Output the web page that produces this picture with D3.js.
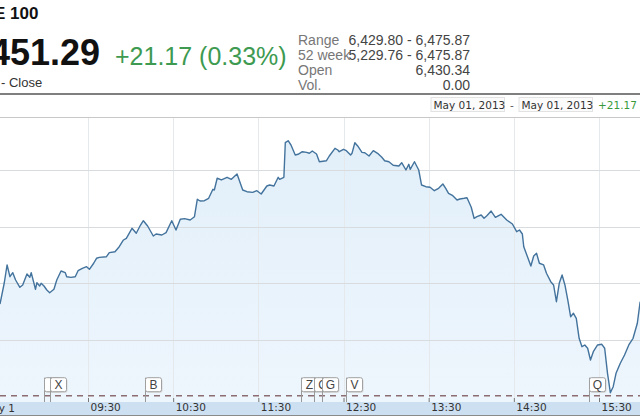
<!DOCTYPE html>
<html><head><meta charset="utf-8">
<script src="https://cdn.jsdelivr.net/npm/d3@7"></script>
<style>html,body{margin:0;padding:0;background:#fff;overflow:hidden}svg{display:block}</style>
</head><body><svg id="c" width="640" height="420"></svg>
<script>
const times = ["08:28","08:31","08:33","08:35","08:37","08:39","08:42","08:44","08:47","08:49","08:50","08:53","08:54","08:56","08:57","08:59",
"09:01","09:03","09:06","09:08","09:11","09:14","09:15","09:18","09:21","09:23","09:26","09:29","09:31","09:34","09:36","09:38","09:43","09:45","09:49","09:52","09:55","09:57",
"10:01","10:04","10:07","10:09","10:12","10:16","10:18","10:22","10:25","10:29","10:32","10:35","10:38","10:42","10:45","10:47","10:49","10:52","10:55","10:58","10:59",
"11:01","11:04","11:08","11:11","11:15","11:19","11:22","11:26","11:29","11:32","11:36","11:38","11:41","11:44","11:45","11:48","11:49","11:51","11:53","11:56","11:58",
"12:01","12:04","12:06","12:08","12:11","12:13","12:18","12:20","12:24","12:26","12:27","12:30","12:32","12:35","12:36","12:38","12:40","12:43","12:45","12:48","12:51","12:54","12:57","12:59",
"13:02","13:05","13:09","13:11","13:14","13:16","13:17","13:20","13:23","13:25","13:28","13:31","13:34","13:37","13:40","13:42","13:44","13:47","13:50","13:52","13:55","13:57",
"14:00","14:02","14:04","14:07","14:09","14:11","14:14","14:17","14:21","14:25","14:29","14:32","14:34","14:36","14:37","14:40","14:42","14:44","14:46","14:48","14:51","14:53","14:56","14:58",
"15:00","15:02","15:04","15:06","15:08","15:10","15:12","15:14","15:16","15:18","15:20","15:22","15:24","15:26","15:29","15:32","15:34","15:36","15:38","15:40","15:42","15:45","15:48","15:51","15:54","15:57","15:59"];
const prices = [6446.35,6450.06,6453.24,6451.17,6451.88,6450.59,6449.30,6449.71,6451.65,6451.06,6451.88,6448.95,6450.11,6449.53,6450.01,6449.53,
6448.82,6448.35,6448.95,6450.59,6452.18,6451.88,6451.17,6451.06,6451.17,6452.23,6452.65,6452.94,6452.48,6453.54,6454.42,6454.59,6454.70,6455.41,6455.58,6456.46,6457.65,6457.95,
6459.71,6458.83,6460.29,6461.05,6460.12,6458.35,6458.71,6458.53,6458.94,6461.05,6459.41,6461.30,6461.41,6461.18,6461.76,6464.83,6464.53,6464.58,6465.01,6466.59,6466.47,
6468.54,6468.24,6468.71,6468.36,6469.29,6466.47,6466.17,6466.06,6466.35,6465.76,6467.18,6467.35,6467.18,6468.71,6468.36,6468.71,6474.82,6475.17,6474.41,6472.65,6472.77,
6473.23,6473.12,6472.95,6473.35,6472.82,6471.46,6471.64,6472.47,6473.83,6473.53,6473.23,6473.65,6473.41,6472.65,6472.95,6474.82,6474.24,6473.12,6473.05,6472.47,6473.41,6472.95,6472.24,6471.64,
6471.46,6470.83,6470.71,6471.29,6470.00,6471.01,6470.12,6471.46,6470.00,6467.35,6467.05,6466.95,6466.35,6466.77,6467.53,6466.77,6465.89,6465.46,6464.71,6464.88,6465.01,6465.11,
6463.42,6461.48,6461.76,6462.06,6461.48,6461.94,6462.76,6461.65,6462.18,6461.18,6460.47,6459.11,6459.41,6458.71,6456.46,6454.42,6453.06,6454.82,6455.30,6453.54,6453.24,6451.77,6450.29,6449.71,
6446.76,6450.01,6451.47,6449.71,6447.06,6444.11,6444.71,6443.83,6440.30,6438.82,6439.12,6438.54,6436.47,6437.94,6439.12,6439.24,6438.54,6434.12,6430.70,6431.76,6434.12,6435.89,6437.35,6439.12,6440.30,6442.95,6446.76];
const xTickLabels = ["09:30","10:30","11:30","12:30","13:30","14:30","15:30"];
const yGridValues = [6440, 6450, 6460, 6470];
const flagLetters = ["","X","B","Z","C","G","V","Q"];
const flagTimes = ["08:59","09:03","10:10","12:00","12:09","12:15","12:32","15:23"];
const statLabels = ["Range","52 week","Open","Vol."];
const statValues = ["6,429.80 - 6,475.87","5,229.76 - 6,475.87","6,430.34","0.00"];
const indexName = "FTSE 100";
const lastPrice = "6,451.29";
const change = "+21.17 (0.33%)";
const dateFrom = "May 01, 2013", dateTo = "May 01, 2013";
const dayLabel = "May 1";

(function(){
const parse = d3.timeParse("%H:%M");
const data = times.map((t,i)=>({t:parse(t), v:prices[i]}));
const svg = d3.select("#c");
const chartTop = 117, chartBottom = 402, W = 640;

const x = d3.scaleTime().domain([parse("09:30"), parse("15:30")]).range([88, 599]);
const y = d3.scaleLinear().domain([6440, 6470]).range([340, 170]);

// header
svg.append("text").attr("x",38.5).attr("y",19).attr("text-anchor","end")
  .style("font","bold 17px 'Liberation Sans', Arial, sans-serif").attr("fill","#111").text(indexName);
svg.append("text").attr("x",100).attr("y",65).attr("text-anchor","end")
  .style("font","bold 36px 'Liberation Sans', Arial, sans-serif").attr("fill","#111").text(lastPrice);
svg.append("text").attr("x",115).attr("y",65)
  .style("font","25px 'Liberation Sans', Arial, sans-serif").attr("fill","#3d9a50").text(change);
svg.append("text").attr("x",1).attr("y",87)
  .style("font","13px 'Liberation Sans', Arial, sans-serif").attr("fill","#333").text("- Close");
statLabels.forEach((l,i)=>{
  svg.append("text").attr("x",298).attr("y",45+i*15)
    .style("font","14px 'Liberation Sans', Arial, sans-serif").attr("fill","#777").text(l);
  svg.append("text").attr("x",470).attr("y",45+i*15).attr("text-anchor","end")
    .style("font","14px 'Liberation Sans', Arial, sans-serif").attr("fill","#444").text(statValues[i]);
});
svg.append("line").attr("x1",0).attr("x2",W).attr("y1",94).attr("y2",94).attr("stroke","#555").attr("stroke-width",1.3);

// date range row
const dateFont = "10.5px 'DejaVu Sans', Verdana, sans-serif";
[[431,dateFrom],[519,dateTo]].forEach(([bx,txt])=>{
  svg.append("rect").attr("x",bx).attr("y",97.5).attr("width",73.5).attr("height",14)
    .attr("fill","#fbfbfb").attr("stroke","#e2e2e2");
  svg.append("text").attr("x",bx+2.5).attr("y",109).style("font",dateFont).attr("fill","#333").text(txt);
});
svg.append("text").attr("x",510).attr("y",108.5).style("font",dateFont).attr("fill","#555").text("-");
svg.append("text").attr("x",598).attr("y",109).style("font",dateFont).attr("fill","#3a9a3a").text("+21.17 (");

// chart area
const defs = svg.append("defs");
defs.append("clipPath").attr("id","clip").append("rect").attr("x",0).attr("y",chartTop).attr("width",W).attr("height",chartBottom-chartTop);
const grad = defs.append("linearGradient").attr("id","g").attr("x1",0).attr("x2",0).attr("y1",0).attr("y2",1);
grad.append("stop").attr("offset","0%").attr("stop-color","#e2eff9");
grad.append("stop").attr("offset","100%").attr("stop-color","#eef6fd");

const g = svg.append("g").attr("clip-path","url(#clip)");
g.append("path").datum(data)
  .attr("d", d3.area().x(d=>x(d.t)).y0(chartBottom).y1(d=>y(d.v)))
  .attr("fill","url(#g)");

// grid
g.selectAll(".vg").data(xTickLabels.map(parse)).enter().append("line")
  .attr("x1",d=>Math.round(x(d))+0.5).attr("x2",d=>Math.round(x(d))+0.5).attr("y1",chartTop).attr("y2",chartBottom)
  .attr("stroke","#e6e9ec").attr("stroke-width",1);
g.selectAll(".hg").data(yGridValues).enter().append("line")
  .attr("x1",0).attr("x2",W).attr("y1",d=>Math.round(y(d))+0.5).attr("y2",d=>Math.round(y(d))+0.5)
  .attr("stroke","#d9dcdf").attr("stroke-width",1);
svg.append("line").attr("x1",0).attr("x2",W).attr("y1",chartTop+0.5).attr("y2",chartTop+0.5).attr("stroke","#c8c8c8");

g.append("path").datum(data)
  .attr("d", d3.line().x(d=>x(d.t)).y(d=>y(d.v)))
  .attr("fill","none").attr("stroke","#43739d").attr("stroke-width",1.4).attr("stroke-linejoin","round");

// dashed previous close line
svg.append("line").attr("x1",0).attr("x2",W).attr("y1",395.7).attr("y2",395.7)
  .attr("stroke","#8c6d72").attr("stroke-width",1.5).attr("stroke-dasharray","6,5");

// axis band
svg.append("rect").attr("x",0).attr("y",chartBottom).attr("width",W).attr("height",13).attr("fill","#cde0f2");
svg.append("line").attr("x1",0).attr("x2",W).attr("y1",415.5).attr("y2",415.5).attr("stroke","#8a8a8a");

const axis = d3.axisBottom(x).tickValues(xTickLabels.map(parse)).tickFormat(d3.timeFormat("%H:%M"))
  .tickSize(4).tickPadding(2);
const ax = svg.append("g").attr("transform","translate(0,398)").call(axis);
ax.select(".domain").remove();
ax.selectAll(".tick line").attr("stroke","#777");
ax.selectAll(".tick text").attr("text-anchor","start").attr("x",2)
  .style("font",dateFont).attr("fill","#333");
svg.append("text").attr("x",15).attr("y",411.5).attr("text-anchor","end").style("font",dateFont).attr("fill","#333").text(dayLabel);

// flags
const fy = 377.7, fh = 14, fw = 16;
flagLetters.forEach((L,i)=>{
  const fx = Math.round(x(parse(flagTimes[i])))+0.5;
  const fg = svg.append("g");
  fg.append("line").attr("x1",fx).attr("x2",fx).attr("y1",fy).attr("y2",chartBottom).attr("stroke","#999");
  fg.append("rect").attr("x",fx+1).attr("y",fy+1).attr("width",fw).attr("height",fh).attr("rx",2).attr("fill","#d8d8d8");
  fg.append("rect").attr("x",fx).attr("y",fy).attr("width",fw).attr("height",fh).attr("rx",2)
    .attr("fill","#fff").attr("stroke","#a0a0a0");
  if (L) fg.append("text").attr("x",fx+fw/2).attr("y",fy+11).attr("text-anchor","middle")
    .style("font","12px 'Liberation Sans', Arial, sans-serif").attr("fill","#444").text(L);
});
})();
</script></body></html>
